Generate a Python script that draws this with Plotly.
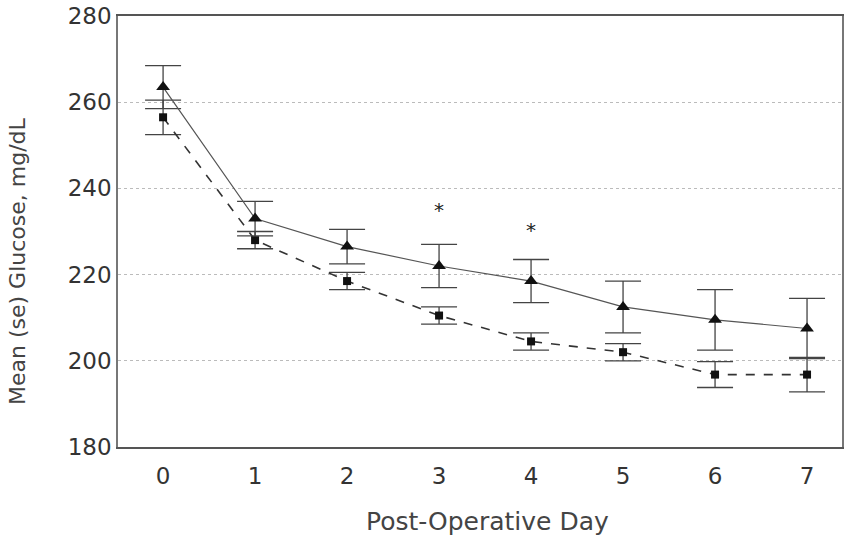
import plotly.graph_objects as go

days = [0, 1, 2, 3, 4, 5, 6, 7]
tri_mean = [263.5, 233, 226.5, 222, 218.5, 212.5, 209.5, 207.5]
tri_se = [5, 4, 4, 5, 5, 6, 7, 7]
sq_mean = [256.5, 228, 218.5, 210.5, 204.5, 202, 196.8, 196.8]
sq_se = [4, 2, 2, 2, 2, 2, 3, 4]
star_days = [3, 4]
star_y = [234.5, 230]
y_ticks = [180, 200, 220, 240, 260, 280]

fig = go.Figure()
fig.add_trace(go.Scatter(
    x=days, y=sq_mean, mode="lines+markers",
    line=dict(color="#333333", width=1.6, dash="dash"),
    marker=dict(symbol="square", size=8, color="#111111"),
    error_y=dict(type="data", array=sq_se, visible=True, color="#444444", thickness=1.3, width=18),
    showlegend=False,
))
fig.add_trace(go.Scatter(
    x=days, y=tri_mean, mode="lines+markers",
    line=dict(color="#555555", width=1.2),
    marker=dict(symbol="triangle-up", size=12, color="#111111"),
    error_y=dict(type="data", array=tri_se, visible=True, color="#444444", thickness=1.3, width=18),
    showlegend=False,
))
fig.add_trace(go.Scatter(
    x=star_days, y=star_y, mode="text", text=["*", "*"],
    textfont=dict(size=20, color="#222222", family="DejaVu Sans"),
    showlegend=False,
))

fig.update_layout(
    width=854, height=543,
    margin=dict(l=118, r=12, t=16, b=96),
    paper_bgcolor="white", plot_bgcolor="white",
    font=dict(family="DejaVu Sans, sans-serif", color="#333333"),
    annotations=[
        dict(text="Mean (se) Glucose, mg/dL", textangle=-90, xref="paper", yref="paper",
             x=0, y=0.4316, xanchor="center", yanchor="middle", xshift=-100,
             showarrow=False, font=dict(size=22, color="#444444")),
        dict(text="Post-Operative Day", xref="paper", yref="paper",
             x=0.5097, y=-0.174, xanchor="center", yanchor="middle",
             showarrow=False, font=dict(size=25, color="#444444")),
    ],
)
fig.update_xaxes(
    range=[-0.49, 7.38], tickvals=days, ticktext=[str(d) for d in days],
    tickfont=dict(size=23), showgrid=False, zeroline=False, automargin=False,
    showline=True, linecolor="#555555", linewidth=2, mirror=True, ticks="",
    ticklabelstandoff=7,
)
fig.update_yaxes(
    range=[180, 280], tickvals=y_ticks, tickfont=dict(size=23), automargin=False,
    showgrid=True, gridcolor="#bbbbbb", griddash="dot", gridwidth=1,
    zeroline=False, showline=True, linecolor="#777777", linewidth=1.5, mirror=True, ticks="",
    ticklabeloverflow="allow",
)
fig.write_html("out.html", config={"displayModeBar": False},
               post_script="document.body.style.margin='0';")
